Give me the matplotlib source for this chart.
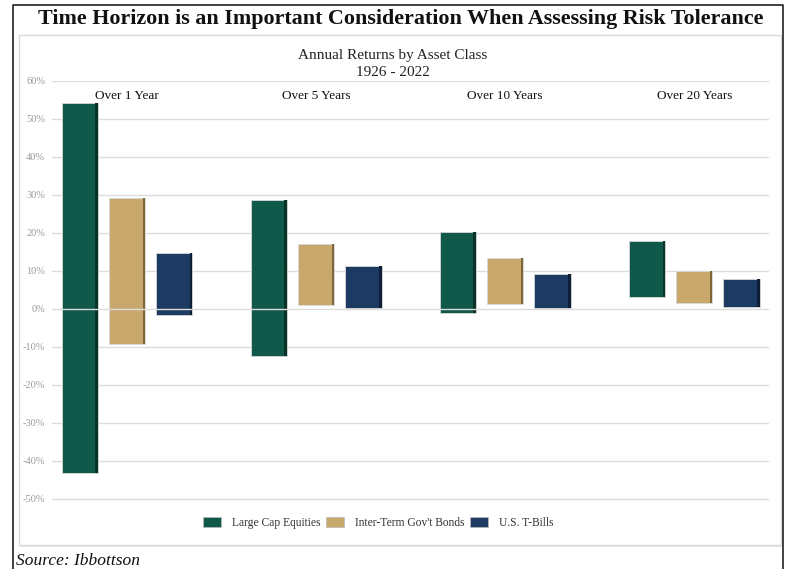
import matplotlib
matplotlib.use("Agg")
import matplotlib.pyplot as plt
from matplotlib.patches import Rectangle, Patch
from matplotlib.ticker import FuncFormatter

plt.rcParams['font.family'] = ['Liberation Serif', 'DejaVu Serif']

horizons = ["Over 1 Year", "Over 5 Years", "Over 10 Years", "Over 20 Years"]
series = ["Large Cap Equities", "Inter-Term Gov't Bonds", "U.S. T-Bills"]
# best / worst annualized returns (%) over each holding period
high = {
    "Large Cap Equities": [54.1, 28.7, 20.3, 18.0],
    "Inter-Term Gov't Bonds": [29.3, 17.2, 13.3, 10.1],
    "U.S. T-Bills": [14.8, 11.3, 9.3, 7.9],
}
low = {
    "Large Cap Equities": [-43.2, -12.4, -1.0, 3.2],
    "Inter-Term Gov't Bonds": [-9.3, 1.0, 1.3, 1.7],
    "U.S. T-Bills": [-1.6, 0.2, 0.2, 0.4],
}
yticks = list(range(-50, 61, 10))

colors = {"Large Cap Equities": "#10584A",
          "Inter-Term Gov't Bonds": "#C9A86D",
          "U.S. T-Bills": "#1D3A62"}
shades = {"Large Cap Equities": "#0A3328",
          "Inter-Term Gov't Bonds": "#7E6638",
          "U.S. T-Bills": "#0E1E36"}

W, H = 785, 569
fig = plt.figure(figsize=(W / 100, H / 100), dpi=100)
fig.patch.set_facecolor("white")

def px(x0, y0, x1, y1):
    return [x0 / W, 1 - y1 / H, (x1 - x0) / W, (y1 - y0) / H]

# outer frame and inner panel
frame = fig.add_axes([0, 0, 1, 1], zorder=-5)
frame.set_xlim(0, W)
frame.set_ylim(H, 0)
frame.axis("off")
frame.plot([12.5, 12.5, 783, 783], [H + 2, 5, 5, H + 2], color="#222222", lw=1.2)
frame.add_patch(Rectangle((20, 37), 763, 510, facecolor="#E8E8E8", edgecolor="none"))
frame.add_patch(Rectangle((19, 35), 762, 510, facecolor="white", edgecolor="#DADADA", lw=1))

fig.text(401 / W, 1 - 19 / H, "Time Horizon is an Important Consideration When Assessing Risk Tolerance",
         ha="center", va="center", fontsize=15.8, fontweight="bold", color="#111111")
fig.text(0.5, 1 - 55 / H, "Annual Returns by Asset Class", ha="center", va="center",
         fontsize=11, color="#222222")
fig.text(0.5, 1 - 72 / H, "1926 - 2022", ha="center", va="center",
         fontsize=11, color="#222222")
fig.text(16 / W, 1 - 561 / H, "Source: Ibbottson", ha="left", va="center",
         fontsize=12.5, style="italic", color="#111111")

# axes spans -51..60 so the -50% gridline is not clipped
ax = fig.add_axes(px(52, 81, 769, 499 + 3.8))
ax.set_facecolor("none")
ax.set_ylim(-51, 60)
ax.set_xlim(-0.397, 3.395)

bw = 0.192
step = 0.25
strip = 0.014
for k, s in enumerate(series):
    for i in range(len(horizons)):
        xc = i + (k - 1) * step
        lo, hi = low[s][i], high[s][i]
        ax.bar(xc, hi - lo, bottom=lo, width=bw, color=colors[s],
               edgecolor="#D8D8D8", linewidth=0.6, zorder=3)
        ax.bar(xc + bw / 2 - strip, hi - lo, bottom=lo, width=strip, align="edge",
               color=shades[s], linewidth=0, zorder=3.5)

for i, h in enumerate(horizons):
    ax.text(i, 56, h, ha="center", va="center", fontsize=9.5, color="#111111", zorder=5)

ax.set_yticks(yticks)
ax.yaxis.set_major_formatter(FuncFormatter(lambda v, p: f"{v:.0f}%"))
ax.tick_params(axis="y", length=0, pad=5, labelsize=7.5, labelcolor="#9A9A9A")
ax.tick_params(axis="x", length=0, labelbottom=False)
ax.set_xticks([])
for v in yticks:
    ax.axhline(v, color="#DCDCDC", lw=1, zorder=1 if v != 0 else 4)
for sp in ax.spines.values():
    sp.set_visible(False)

handles = [Patch(facecolor=colors[s], edgecolor="#BBBBBB", linewidth=0.5, label=s) for s in series]
fig.legend(handles=handles, loc="center", bbox_to_anchor=(378 / W, 1 - 523 / H), ncol=3,
           frameon=False, fontsize=8.3, handlelength=1.6, handleheight=0.9,
           columnspacing=0.5, handletextpad=0.9, labelcolor="#333333")

fig.savefig("out.png", dpi=100, facecolor="white")
